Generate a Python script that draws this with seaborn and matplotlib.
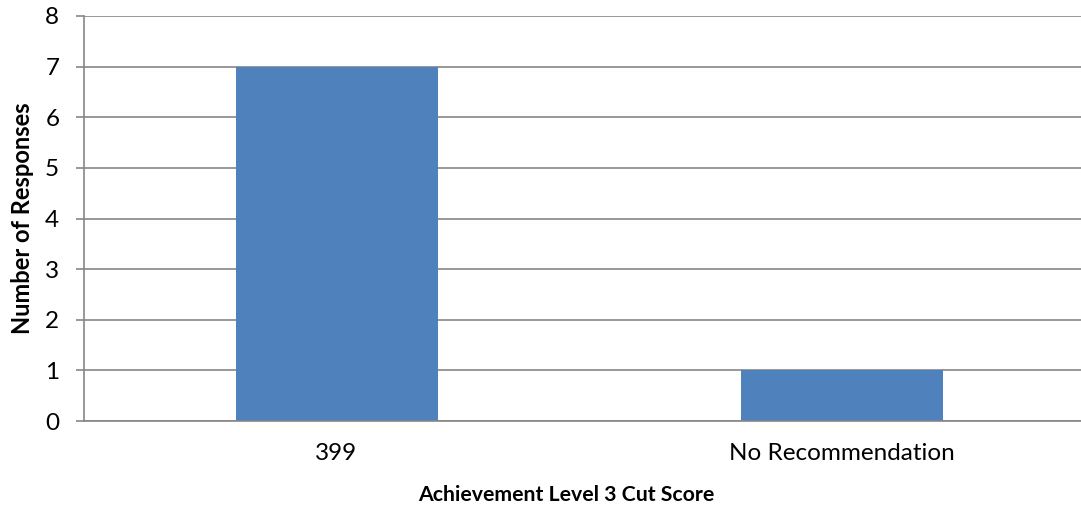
import matplotlib
matplotlib.use("Agg")
import matplotlib.pyplot as plt
import seaborn as sns
import pandas as pd

categories = ["399", "No Recommendation"]
responses = [7, 1]

sns.set_theme(style="white")
plt.rcParams['font.family'] = ['Lato', 'DejaVu Sans']

df = pd.DataFrame({"cat": categories, "val": responses})

W, H = 1081, 508
fig = plt.figure(figsize=(W / 100, H / 100), dpi=100)
ax = fig.add_axes([84 / W, 1 - 421 / H, (W - 84) / W, (421 - 16) / H])

sns.barplot(data=df, x="cat", y="val", color="#4F81BD", width=0.4, ax=ax,
            saturation=1, linewidth=0)

gc = "#868686"
fs = 17.5
ax.set_ylim(0, 8)
ax.set_xlim(-0.5, -0.5 + (W - 84) / 505)
ax.set_yticks(range(0, 9))
ax.yaxis.grid(True, color=gc, linewidth=1.2)
ax.set_axisbelow(True)
for s in ["top", "right"]:
    ax.spines[s].set_visible(False)
for s in ["left", "bottom"]:
    ax.spines[s].set_color(gc)
    ax.spines[s].set_linewidth(1.2)
ax.tick_params(axis="y", length=5.8, width=1.2, color=gc, left=True, labelsize=fs, pad=12, labelcolor="black")
ax.tick_params(axis="x", length=0, labelsize=fs, pad=16, labelcolor="black")
ax.set_xlabel("Achievement Level 3 Cut Score", fontsize=15.3, fontweight="bold", color="black")
ax.xaxis.set_label_coords((566 - 84) / (W - 84), -(495 - 421) / (421 - 16))
ax.xaxis.label.set_va("center")
ax.set_ylabel("Number of Responses", fontsize=17, fontweight="bold", labelpad=8, color="black")

fig.savefig("out.png", dpi=100)
